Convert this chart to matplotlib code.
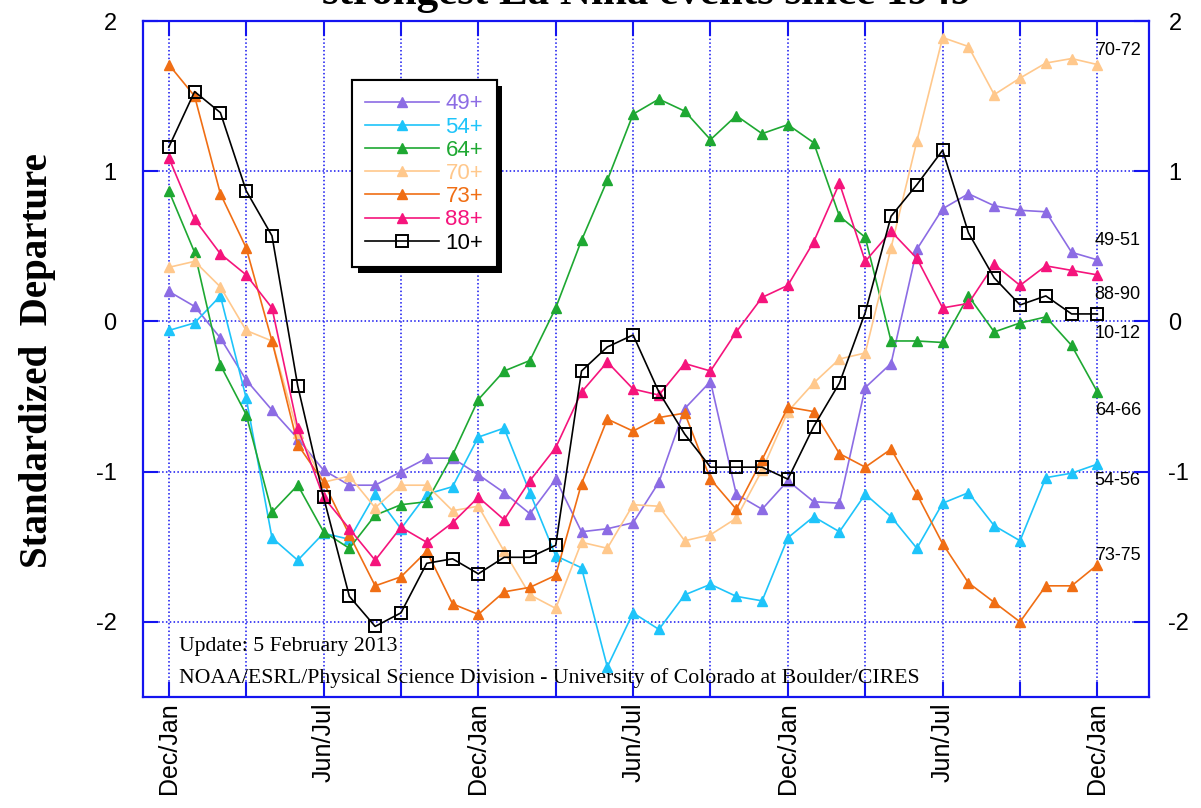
import numpy as np
import matplotlib.pyplot as plt
from matplotlib import patheffects

# months from Dec/Jan of the onset year, 37 points
months = np.arange(37)
tick_months = np.arange(0, 37, 3)
tick_labels = ['Dec/Jan', '', 'Jun/Jul', '', 'Dec/Jan', '', 'Jun/Jul', '',
               'Dec/Jan', '', 'Jun/Jul', '', 'Dec/Jan']

# standardized departures
s49 = [0.20, 0.10, -0.11, -0.39, -0.59, -0.78, -0.99, -1.09, -1.09, -1.00, -0.91, -0.91,
       -1.02, -1.14, -1.28, -1.05, -1.40, -1.38, -1.34, -1.07, -0.58, -0.40, -1.15, -1.25,
       -1.06, -1.20, -1.21, -0.44, -0.28, 0.48, 0.75, 0.85, 0.77, 0.74, 0.73, 0.46, 0.41]
s54 = [-0.06, -0.01, 0.17, -0.51, -1.44, -1.59, -1.41, -1.45, -1.15, -1.38, -1.15, -1.10,
       -0.77, -0.71, -1.14, -1.56, -1.64, -2.30, -1.94, -2.05, -1.82, -1.75, -1.83, -1.86,
       -1.44, -1.30, -1.40, -1.15, -1.30, -1.51, -1.21, -1.14, -1.36, -1.46, -1.04, -1.01, -0.95]
s64 = [0.87, 0.46, -0.29, -0.62, -1.27, -1.09, -1.40, -1.51, -1.29, -1.22, -1.20, -0.89,
       -0.52, -0.33, -0.26, 0.09, 0.54, 0.94, 1.38, 1.48, 1.40, 1.21, 1.37, 1.25,
       1.31, 1.19, 0.70, 0.56, -0.13, -0.13, -0.14, 0.17, -0.07, -0.01, 0.03, -0.16, -0.47]
s70 = [0.36, 0.40, 0.23, -0.06, -0.13, -0.74, -1.07, -1.03, -1.24, -1.09, -1.09, -1.26,
       -1.23, -1.53, -1.82, -1.91, -1.47, -1.51, -1.22, -1.23, -1.46, -1.42, -1.31, -0.99,
       -0.60, -0.41, -0.25, -0.21, 0.49, 1.20, 1.89, 1.83, 1.51, 1.62, 1.72, 1.75, 1.71]
s73 = [1.71, 1.50, 0.85, 0.49, -0.13, -0.82, -1.07, -1.42, -1.76, -1.70, -1.53, -1.88,
       -1.95, -1.80, -1.77, -1.69, -1.08, -0.65, -0.73, -0.64, -0.61, -1.05, -1.25, -0.92,
       -0.57, -0.60, -0.88, -0.97, -0.85, -1.15, -1.48, -1.74, -1.87, -2.00, -1.76, -1.76, -1.62]
s88 = [1.09, 0.68, 0.45, 0.31, 0.09, -0.71, -1.17, -1.38, -1.59, -1.37, -1.47, -1.34,
       -1.17, -1.32, -1.06, -0.84, -0.47, -0.27, -0.45, -0.49, -0.28, -0.33, -0.07, 0.16,
       0.24, 0.53, 0.92, 0.40, 0.60, 0.42, 0.09, 0.12, 0.38, 0.24, 0.37, 0.34, 0.31]
s10 = [1.16, 1.53, 1.39, 0.87, 0.57, -0.43, -1.17, -1.83, -2.03, -1.94, -1.61, -1.58,
       -1.68, -1.57, -1.57, -1.49, -0.33, -0.17, -0.09, -0.47, -0.75, -0.97, -0.97, -0.97,
       -1.05, -0.70, -0.41, 0.06, 0.70, 0.91, 1.14, 0.59, 0.29, 0.11, 0.17, 0.05, 0.05]

names = ['49+', '54+', '64+', '70+', '73+', '88+', '10+']
end_labels = ['49-51', '54-56', '64-66', '70-72', '73-75', '88-90', '10-12']
series = [s49, s54, s64, s70, s73, s88, s10]
colors = ['#8c6ce4', '#1ec4fa', '#1ea832', '#ffc88c', '#f06e14', '#f5147c', 'black']
# vertical offset (points) of the end label from the last point
label_dy = [14, -12, -13, 10, 7, -14, -14]

blue = '#1414f0'
plt.rcParams['font.family'] = ['Liberation Sans', 'DejaVu Sans']
serif = ['Liberation Serif', 'DejaVu Serif']

fig = plt.figure(figsize=(12.01, 8.08), dpi=100)
ax = fig.add_axes([143 / 1201, 1 - 697 / 808, 1006 / 1201, 676 / 808])

for name, vals, c in zip(names, series, colors):
    if name == '10+':
        ax.plot(months, vals, color=c, lw=1.2, marker='s', ms=9, mfc='none',
                mec=c, mew=1.4, label=name, zorder=4)
    else:
        ax.plot(months, vals, color=c, lw=1.2, marker='^', ms=7.5, mfc=c, mec=c,
                label=name, zorder=3)

for txt, vals, dy in zip(end_labels, series, label_dy):
    ax.annotate(txt, xy=(months[-1], vals[-1]), xytext=(-2, dy),
                textcoords='offset points', ha='left', va='center', fontsize=13)

ax.set_xlim(-1, 38)
ax.set_ylim(-2.5, 2)
ax.set_xticks(tick_months)
ax.set_xticklabels(tick_labels, rotation=90, fontsize=18)
ax.set_yticks([-2, -1, 0, 1, 2])
ax.set_yticklabels(['-2', '-1', '0', '1', '2'], fontsize=17)
ax.tick_params(axis='x', direction='in', top=True, length=11, width=1.5,
               color=blue, pad=4)
ax.tick_params(axis='y', direction='in', length=11, width=1.5, color=blue, pad=19)
ax.grid(True, color=blue, linestyle=(0, (1, 1.5)), linewidth=1.1)
for sp in ax.spines.values():
    sp.set_color(blue)
    sp.set_linewidth(1.6)

ax2 = ax.twinx()
ax2.set_ylim(-2.5, 2)
ax2.set_yticks([-2, -1, 0, 1, 2])
ax2.set_yticklabels(['-2', '-1', '0', '1', '2'], fontsize=17)
ax2.tick_params(axis='y', direction='in', length=11, width=1.5, color=blue, pad=14)
for sp in ax2.spines.values():
    sp.set_visible(False)

leg = ax.legend(loc='upper left', bbox_to_anchor=(0.2078, 0.9127), borderaxespad=0,
                fancybox=False, edgecolor='black', framealpha=1, fontsize=16,
                handlelength=3.3, handletextpad=0.3, labelspacing=0.1,
                borderpad=0.6, labelcolor='linecolor', numpoints=1)
leg.get_frame().set_linewidth(1.5)
leg.get_frame().set_path_effects([
    patheffects.withSimplePatchShadow(offset=(4, -4), shadow_rgbFace='black', alpha=1.0),
    patheffects.Normal()])
leg.set_zorder(10)

ax.text(0.036, 0.074, 'Update: 5 February 2013', transform=ax.transAxes,
        family=serif, fontsize=15.7, va='center', ha='left')
ax.text(0.036, 0.028,
        'NOAA/ESRL/Physical Science Division - University of Colorado at Boulder/CIRES',
        transform=ax.transAxes, family=serif, fontsize=15.7, va='center', ha='left')

fig.text(38 / 1201, 1 - 361 / 808, 'Standardized  Departure', rotation=90,
         family=serif, fontweight='bold', fontsize=28, ha='center', va='center')
# title sits mostly above the figure edge, as in the original image
fig.text(647 / 1201, 1 - 4 / 808, 'strongest La Niña events since 1949',
         family=serif, fontweight='bold', fontsize=31, ha='center', va='baseline')

fig.savefig('out.png', dpi=100)
